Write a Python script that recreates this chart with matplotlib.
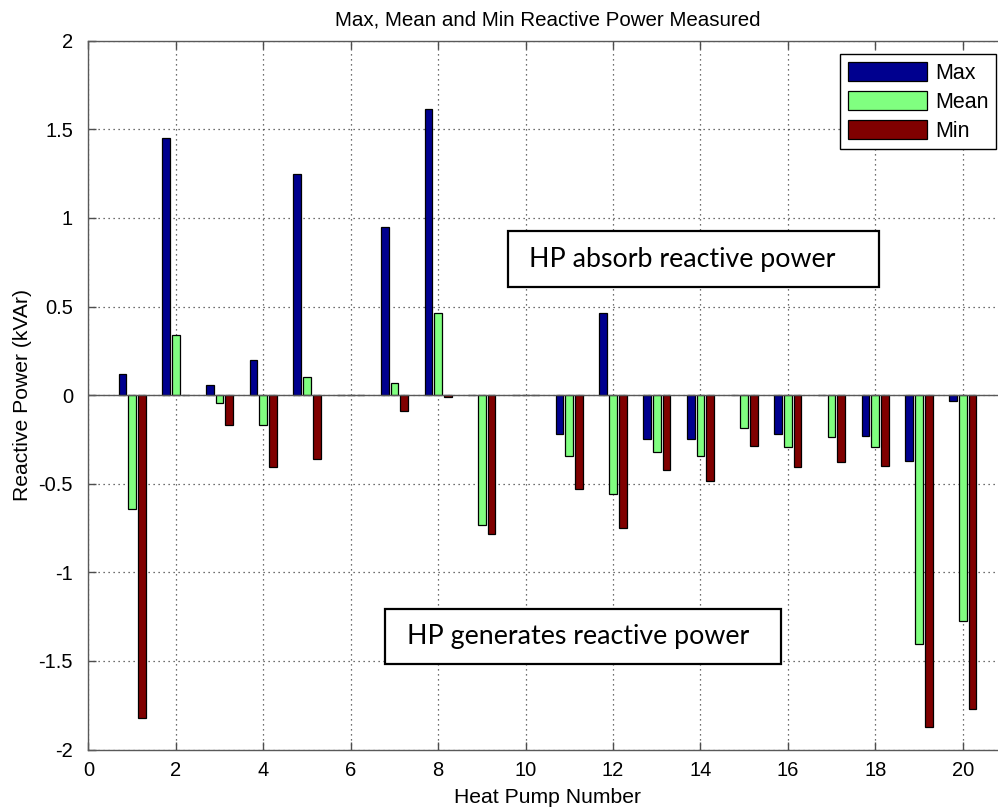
import matplotlib
matplotlib.use("Agg")
import matplotlib.pyplot as plt
from matplotlib.patches import Rectangle
import numpy as np

hp = np.arange(1, 21)
max_vals = [0.12, 1.45, 0.055, 0.197, 1.25, 0.0, 0.948, 1.615, 0.0, 0.0,
            -0.222, 0.466, -0.25, -0.25, 0.0, -0.222, 0.0, -0.229, -0.371, -0.032]
mean_vals = [-0.64, 0.34, -0.047, -0.166, 0.103, 0.0, 0.07, 0.466, -0.735, 0.0,
             -0.344, -0.555, -0.321, -0.344, -0.188, -0.29, -0.235, -0.29, -1.403, -1.273]
min_vals = [-1.824, 0.0, -0.166, -0.406, -0.359, 0.0, -0.088, -0.013, -0.784, 0.0,
            -0.532, -0.748, -0.425, -0.485, -0.286, -0.406, -0.376, -0.399, -1.871, -1.769]
series_names = ["Max", "Mean", "Min"]
series_colors = ["#00008F", "#80FF80", "#800000"]
xticks = list(range(0, 22, 2))
yticks = [-2, -1.5, -1, -0.5, 0, 0.5, 1, 1.5, 2]
ytick_labels = ['-2', '-1.5', '-1', '-0.5', '0', '0.5', '1', '1.5', '2']

W, H = 998, 810
fig = plt.figure(figsize=(W / 100, H / 100), dpi=100)
plt.rcParams['font.family'] = ['Liberation Sans', 'DejaVu Sans']

x0, x20 = 88.4, 962.7
unit = (x20 - x0) / 20
ax_w = 21 * unit
top, bot = 40.7, 749.6
ax = fig.add_axes([x0 / W, 1 - bot / H, ax_w / W, (bot - top) / H])

offsets = [-0.222, 0.0, 0.222]
bw = 0.175
for vals, name, col, off in zip([max_vals, mean_vals, min_vals], series_names, series_colors, offsets):
    ax.bar(hp + off, vals, width=bw, color=col, edgecolor='black', linewidth=0.9,
           label=name, zorder=3)

ax.axhline(0, color='0.35', lw=1.0, zorder=4)
ax.set_xlim(0, 21)
ax.set_ylim(-2, 2)
ax.set_xticks(xticks)
ax.set_yticks(yticks)
ax.set_yticklabels(ytick_labels)
ax.grid(True, linestyle=(0, (1, 3)), color='0.25', linewidth=0.9)
ax.set_axisbelow(True)
ax.tick_params(direction='in', length=6, width=1, labelsize=14.5, top=True, right=True,
               colors='0.3', labelcolor='black')
ax.tick_params(axis='x', pad=8)
ax.tick_params(axis='y', pad=11)
for s in ax.spines.values():
    s.set_color('0.35')
    s.set_linewidth(1.0)

ax.set_title("Max, Mean and Min Reactive Power Measured", fontsize=14.8, pad=11)
ax.set_xlabel("Heat Pump Number", fontsize=15.2, labelpad=6)
ax.set_ylabel("Reactive Power (kVAr)", fontsize=15.2, labelpad=5)

leg = ax.legend(loc='upper right', bbox_to_anchor=(996 / W, 1 - 54 / H),
                bbox_transform=fig.transFigure, fontsize=15.5, frameon=True,
                fancybox=False, framealpha=1, edgecolor='black', borderpad=0.35,
                handlelength=3.67, handleheight=1.0, labelspacing=0.33, handletextpad=0.37,
                borderaxespad=0)
leg.get_frame().set_linewidth(1.0)

# annotation boxes (pixel boxes converted to data units)
def px2data(px, py):
    return (px - x0) / unit, (395.0 - py) / ((bot - top) / 4)

boxes = [("HP absorb reactive power", 507.7, 231, 879.3, 286.7, 529),
         ("HP generates reactive power", 385, 608.7, 781, 664, 406.7)]
for txt, l, t, r, b, tx in boxes:
    dl, dt = px2data(l, t)
    dr, db = px2data(r, b)
    ax.add_patch(Rectangle((dl, db), dr - dl, dt - db, facecolor='white', edgecolor='black',
                           linewidth=1.6, zorder=6))
    txx, _ = px2data(tx, 0)
    ax.text(txx, (dt + db) / 2, txt, fontsize=19.3, family=['Lato', 'DejaVu Sans'],
            ha='left', va='center', zorder=7)

fig.savefig("out.png", dpi=100)
